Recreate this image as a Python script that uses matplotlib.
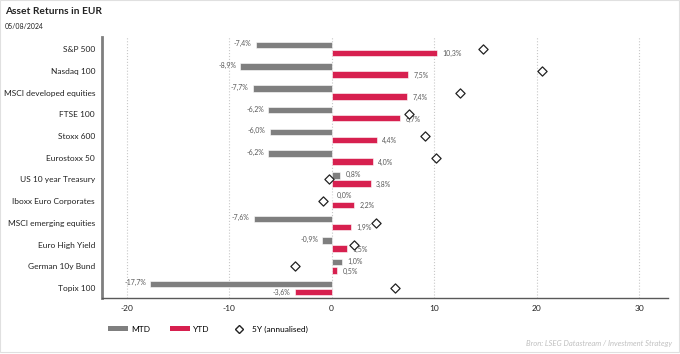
import matplotlib
matplotlib.use('Agg')
import matplotlib.pyplot as plt
from matplotlib.lines import Line2D
from matplotlib.patches import Patch, Rectangle
import numpy as np

plt.rcParams['font.family'] = ['Lato', 'DejaVu Sans']
plt.rcParams['axes.unicode_minus'] = False

assets = ['S&P 500', 'Nasdaq 100', 'MSCI developed equities', 'FTSE 100',
          'Stoxx 600', 'Eurostoxx 50', 'US 10 year Treasury',
          'Iboxx Euro Corporates', 'MSCI emerging equities', 'Euro High Yield',
          'German 10y Bund', 'Topix 100']
mtd = [-7.4, -8.9, -7.7, -6.2, -6.0, -6.2, 0.8, 0.0, -7.6, -0.9, 1.0, -17.7]
ytd = [10.3, 7.5, 7.4, 6.7, 4.4, 4.0, 3.8, 2.2, 1.9, 1.5, 0.5, -3.6]
y5 = [14.8, 20.5, 12.5, 7.6, 9.1, 10.2, -0.3, -0.8, 4.3, 2.2, -3.6, 6.2]

GREY = '#7f7f7f'
RED = '#d7204f'
TXT = '#595959'

fig = plt.figure(figsize=(6.8, 3.54), dpi=100)
ax = fig.add_axes([0.150, 0.158, 0.832, 0.737])

pos = np.arange(len(assets))
ax.barh(pos - 0.19, mtd, height=0.3, color=GREY, edgecolor='white', linewidth=0.4, zorder=2)
ax.barh(pos + 0.18, ytd, height=0.3, color=RED, edgecolor='white', linewidth=0.4, zorder=2)
ax.scatter(y5, pos, marker='D', s=22, facecolor='white', edgecolor='#222222',
           linewidth=0.9, zorder=4)


def fmt(v):
    return ('%.1f%%' % v).replace('.', ',')


for i, v in enumerate(mtd):
    dx = -3 if v < 0 else 4
    ax.annotate(fmt(v), (v, i - 0.24), xytext=(dx, 0), textcoords='offset points',
                ha='right' if v < 0 else 'left', va='center', fontsize=5, color=TXT)
for i, v in enumerate(ytd):
    dx = -3 if v < 0 else 4
    ax.annotate(fmt(v), (v, i + 0.22), xytext=(dx, 0), textcoords='offset points',
                ha='right' if v < 0 else 'left', va='center', fontsize=5, color=TXT)

ax.set_xlim(-22.4, 32.8)
ax.set_ylim(11.46, -0.55)
ax.set_xticks([-20, -10, 0, 10, 20, 30])
ax.set_yticks(pos)
ax.set_yticklabels(assets)
ax.tick_params(axis='y', length=0, pad=5, labelsize=6, labelcolor='#222222')
ax.tick_params(axis='x', length=0, pad=5, labelsize=6, labelcolor='#222222')
ax.grid(axis='x', color='#c8c8c8', linestyle=':', linewidth=0.8, zorder=0)
for s in ['top', 'right']:
    ax.spines[s].set_visible(False)
ax.spines['left'].set_color('#7f7f7f')
ax.spines['left'].set_linewidth(2)
ax.spines['bottom'].set_color('#595959')
ax.spines['bottom'].set_linewidth(1)

fig.text(0.007, 0.968, 'Asset Returns in EUR', fontsize=7.3, fontweight='bold',
         va='center', color='#222222')
fig.text(0.007, 0.925, '05/08/2024', fontsize=5, va='center', color='#222222')

handles = [Patch(facecolor=GREY, label='MTD'),
           Patch(facecolor=RED, label='YTD'),
           Line2D([], [], marker='D', linestyle='none', markerfacecolor='white',
                  markeredgecolor='#222222', markersize=4.5, label='5Y (annualised)')]
fig.legend(handles=handles, loc='center left', bbox_to_anchor=(0.148, 0.07), ncol=3,
           frameon=False, fontsize=6, handlelength=2.4, handleheight=0.6,
           columnspacing=2.3, handletextpad=0.4)

fig.text(0.988, 0.03, 'Bron: LSEG Datastream / Investment Strategy', fontsize=5.5,
         style='italic', color='#c0c0c0', ha='right', va='center')

fig.patches.append(Rectangle((0, 0.006), 0.9985, 0.994, transform=fig.transFigure,
                             fill=False, edgecolor='#e0e0e0', linewidth=0.8))

fig.savefig('out.png', dpi=100, facecolor='white')
